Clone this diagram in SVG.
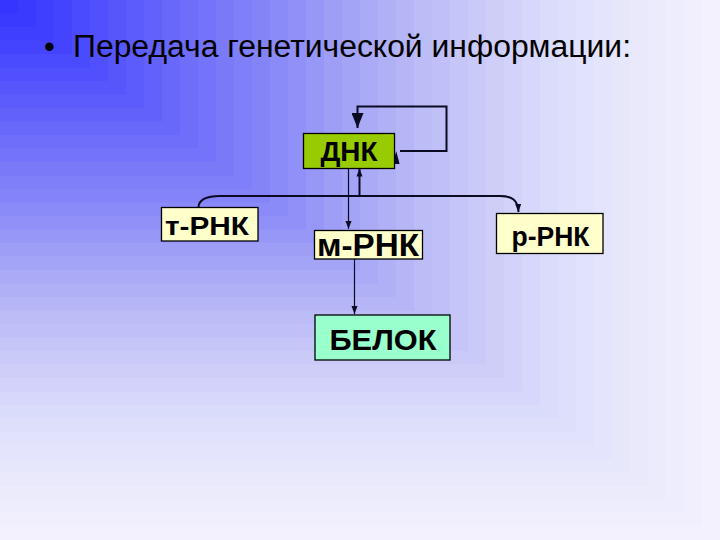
<svg xmlns="http://www.w3.org/2000/svg" width="720" height="540" viewBox="0 0 720 540">
<style>
text{font-family:"Liberation Sans",Arial,sans-serif;fill:#000}
.lbl{font-weight:bold;text-anchor:middle}
.box{stroke:#000;stroke-width:1.3}
.ln{fill:none;stroke:#0a0a22;stroke-width:1.2}
.thick{fill:none;stroke:#0a0a22;stroke-width:2}
</style>
<defs>
<marker id="sm" markerUnits="userSpaceOnUse" markerWidth="8" markerHeight="8" viewBox="0 0 8 8" refX="8" refY="4" orient="auto"><path d="M0,1 L8,4 L0,7 z" fill="#0a0a22"/></marker>
<marker id="big" markerUnits="userSpaceOnUse" markerWidth="15" markerHeight="12" viewBox="0 0 15 12" refX="15" refY="6" orient="auto"><path d="M0,0 L15,6 L0,12 z" fill="#0a0a22"/></marker>
</defs>
<g id="background">
<rect x="0" y="0" width="720" height="540" fill="#f3f1fd"/>
<rect x="0" y="0" width="702" height="526.5" fill="#f1effd"/>
<rect x="0" y="0" width="684" height="513" fill="#eeedfd"/>
<rect x="0" y="0" width="666" height="499.5" fill="#ecebfc"/>
<rect x="0" y="0" width="648" height="486" fill="#eae9fc"/>
<rect x="0" y="0" width="630" height="472.5" fill="#e7e7fc"/>
<rect x="0" y="0" width="612" height="459" fill="#e4e4fc"/>
<rect x="0" y="0" width="594" height="445.5" fill="#e1e2fb"/>
<rect x="0" y="0" width="576" height="432" fill="#dee0fb"/>
<rect x="0" y="0" width="558" height="418.5" fill="#dadcfb"/>
<rect x="0" y="0" width="540" height="405" fill="#d6d7fa"/>
<rect x="0" y="0" width="522" height="391.5" fill="#d2d2fa"/>
<rect x="0" y="0" width="504" height="378" fill="#cecef9"/>
<rect x="0" y="0" width="486" height="364.5" fill="#cacaf8"/>
<rect x="0" y="0" width="468" height="351" fill="#c5c5f8"/>
<rect x="0" y="0" width="450" height="337.5" fill="#c0c0f8"/>
<rect x="0" y="0" width="432" height="324" fill="#bcbcf7"/>
<rect x="0" y="0" width="414" height="310.5" fill="#b6b6f7"/>
<rect x="0" y="0" width="396" height="297" fill="#b0b0f6"/>
<rect x="0" y="0" width="378" height="283.5" fill="#aaaaf6"/>
<rect x="0" y="0" width="360" height="270" fill="#a4a4f6"/>
<rect x="0" y="0" width="342" height="256.5" fill="#9e9ef6"/>
<rect x="0" y="0" width="324" height="243" fill="#9797f7"/>
<rect x="0" y="0" width="306" height="229.5" fill="#9090f8"/>
<rect x="0" y="0" width="288" height="216" fill="#8a8af8"/>
<rect x="0" y="0" width="270" height="202.5" fill="#8484f8"/>
<rect x="0" y="0" width="252" height="189" fill="#7f7ff9"/>
<rect x="0" y="0" width="234" height="175.5" fill="#7a7af9"/>
<rect x="0" y="0" width="216" height="162" fill="#7474fa"/>
<rect x="0" y="0" width="198" height="148.5" fill="#6e6efa"/>
<rect x="0" y="0" width="180" height="135" fill="#6868fb"/>
<rect x="0" y="0" width="162" height="121.5" fill="#6262fb"/>
<rect x="0" y="0" width="144" height="108" fill="#5c5cfc"/>
<rect x="0" y="0" width="126" height="94.5" fill="#5656fd"/>
<rect x="0" y="0" width="108" height="81" fill="#5050fe"/>
<rect x="0" y="0" width="90" height="67.5" fill="#4a4afe"/>
<rect x="0" y="0" width="72" height="54" fill="#4444ff"/>
<rect x="0" y="0" width="54" height="40.5" fill="#3f3fff"/>
<rect x="0" y="0" width="36" height="27" fill="#3a3aff"/>
<rect x="0" y="0" width="18" height="13.5" fill="#3535ff"/>
</g>
<g id="title">
<text x="44" y="57" font-size="31">•</text>
<text x="73" y="57" font-size="31" textLength="558" lengthAdjust="spacingAndGlyphs">Передача генетической информации:</text>
</g>
<g id="connectors">
<path class="thick" d="M400 151 H446.5 V106.5 H357.5 V128" marker-end="url(#big)"/>
<polygon points="392.8,164 399.6,164 396.2,151" fill="#0a0a22"/>
<path class="ln" d="M348.5 168 V229" marker-end="url(#sm)"/>
<path class="thick" d="M359.5 196 V168.5" marker-end="url(#sm)"/>
<path class="thick" d="M198.5 207 C199 199 206 196 220 196 H500 C512 196 518 200 518.5 212" marker-end="url(#sm)"/>
<path class="ln" d="M354.5 259 V314" marker-end="url(#sm)"/>
</g>
<g id="dnk">
<rect class="box" x="303.5" y="133.5" width="91" height="35" fill="#99cc00"/>
<text class="lbl" x="349" y="161" font-size="27" textLength="57" lengthAdjust="spacingAndGlyphs">ДНК</text>
</g>
<g id="trnk">
<rect class="box" x="161.5" y="207.5" width="96.5" height="33.5" fill="#ffffcc"/>
<text class="lbl" x="207" y="235" font-size="26" textLength="84" lengthAdjust="spacingAndGlyphs">т-РНК</text>
</g>
<g id="mrnk">
<rect class="box" x="314.5" y="230.5" width="108" height="28.5" fill="#ffffcc"/>
<text class="lbl" x="368" y="256" font-size="31" textLength="102" lengthAdjust="spacingAndGlyphs">м-РНК</text>
</g>
<g id="rrnk">
<rect class="box" x="496.5" y="213.5" width="106.5" height="40" fill="#ffffcc"/>
<text class="lbl" x="550.5" y="245.5" font-size="27" textLength="78" lengthAdjust="spacingAndGlyphs">р-РНК</text>
</g>
<g id="belok">
<rect class="box" x="315" y="315" width="135" height="45" fill="#99ffcc"/>
<text class="lbl" x="383" y="350" font-size="30" textLength="107" lengthAdjust="spacingAndGlyphs">БЕЛОК</text>
</g>
</svg>
